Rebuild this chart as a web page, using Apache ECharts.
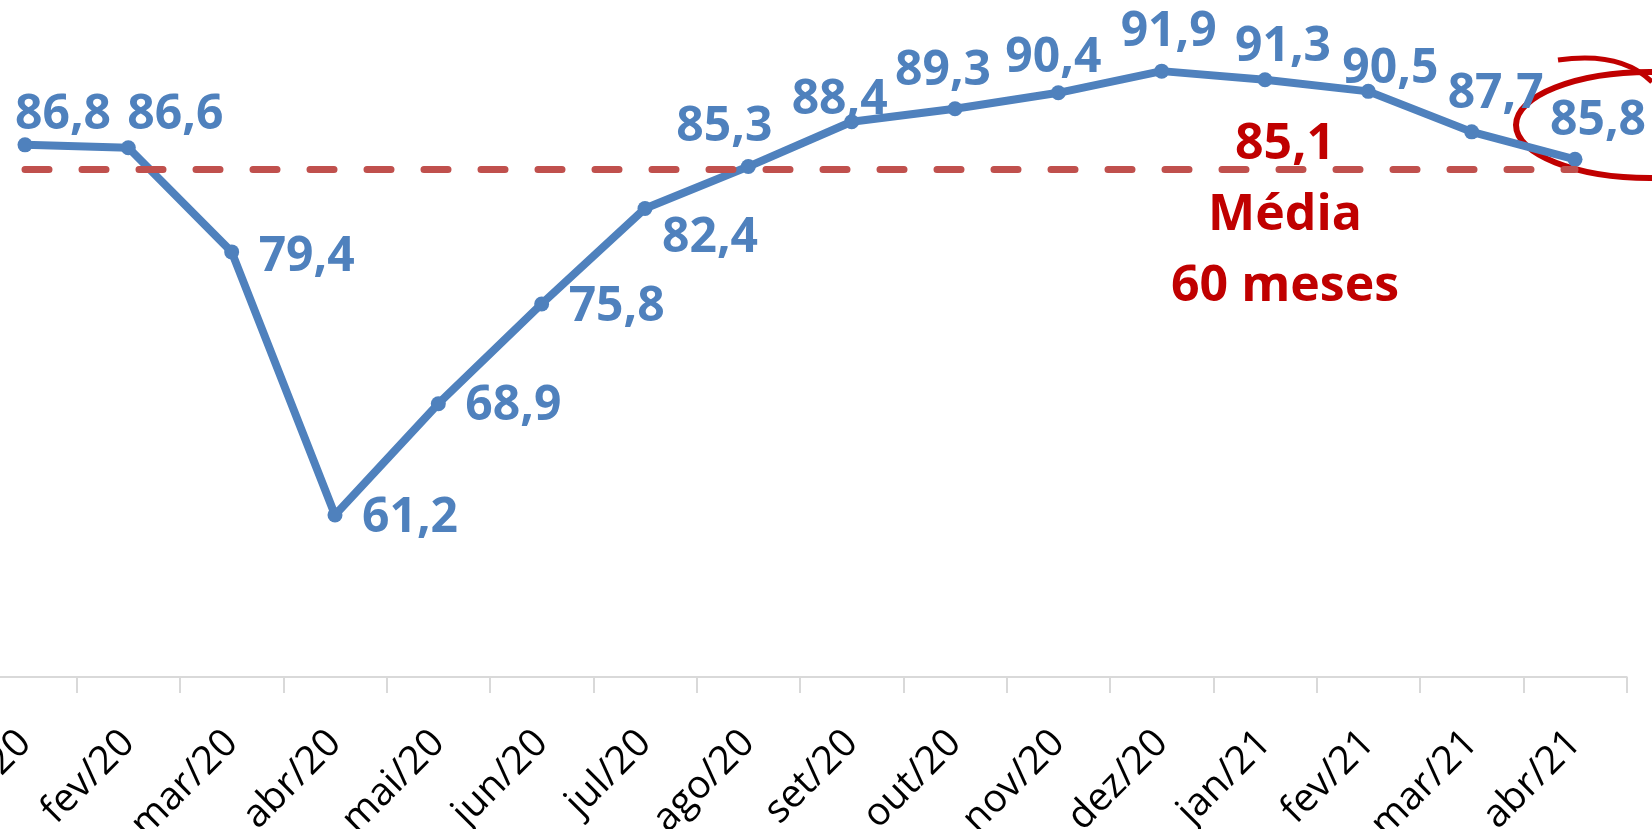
<!DOCTYPE html>
<html>
<head>
<meta charset="utf-8">
<script src="https://cdn.jsdelivr.net/npm/echarts@6/dist/echarts.min.js"></script>
<style>
html,body{margin:0;padding:0;background:#fff;}
#chart{width:1652px;height:829px;}
</style>
</head>
<body>
<div id="chart"></div>
<script>
// ---- data ----
const categories = ['jan/20','fev/20','mar/20','abr/20','mai/20','jun/20','jul/20','ago/20','set/20','out/20','nov/20','dez/20','jan/21','fev/21','mar/21','abr/21'];
const values = [86.8, 86.6, 79.4, 61.2, 68.9, 75.8, 82.4, 85.3, 88.4, 89.3, 90.4, 91.9, 91.3, 90.5, 87.7, 85.8];
const media60 = 85.1;
const mediaLabel = ['Média', '60 meses'];

// ---- layout (label placement relative to each point, px) ----
const labelOffsets = [[38,-30],[47,-32],[75,5],[75,3],[75,3],[75,3],[65,30],[-24,-39],[-12,-21],[-12,-37],[-5,-34],[7,-39],[18,-32],[22,-22],[24,-38],[23,-38]];

const fmt = v => v.toFixed(1).replace('.', ',');
const BLUE = '#4F81BD';
const RED = '#C00000';

const chart = echarts.init(document.getElementById('chart'), null, {renderer: 'canvas'});
chart.setOption({
  animation: false,
  backgroundColor: '#fff',
  grid: {left: -26.67, right: 25.33, top: -46, bottom: 152, outerBoundsMode: 'none'},
  xAxis: {
    type: 'category',
    data: categories,
    boundaryGap: true,
    axisLine: {lineStyle: {color: '#D9D9D9', width: 2}},
    axisTick: {show: true, length: 16, lineStyle: {color: '#D9D9D9', width: 2}},
    axisLabel: {interval: 0, rotate: 45, margin: 60, fontSize: 39, color: '#000', fontFamily: 'Open Sans'},
    splitLine: {show: false}
  },
  yAxis: {type: 'value', min: 50, max: 100, show: false, splitLine: {show: false}},
  series: [
    {
      name: 'Índice',
      type: 'line',
      z: 3,
      data: values.map((v, i) => ({value: v, label: {offset: labelOffsets[i]}})),
      symbol: 'circle',
      symbolSize: 15,
      itemStyle: {color: BLUE},
      lineStyle: {color: BLUE, width: 8, cap: 'round', join: 'round'},
      label: {
        show: true,
        position: 'inside',
        formatter: p => fmt(p.value),
        color: BLUE,
        fontSize: 48,
        fontWeight: 'bold',
        fontFamily: 'Open Sans'
      }
    },
    {
      name: 'Média 60 meses',
      type: 'line',
      z: 4,
      data: categories.map(() => media60),
      symbol: 'none',
      lineStyle: {color: '#C0504D', width: 7, type: [24, 33], cap: 'round'}
    }
  ],
  graphic: [
    {type: 'text', x: 1285, y: 145, style: {text: fmt(media60), fill: RED, font: 'bold 50px "Open Sans"', align: 'center', verticalAlign: 'middle'}},
    {type: 'text', x: 1285, y: 216, style: {text: mediaLabel[0], fill: RED, font: 'bold 50px "Open Sans"', align: 'center', verticalAlign: 'middle'}},
    {type: 'text', x: 1285, y: 287, style: {text: mediaLabel[1], fill: RED, font: 'bold 50px "Open Sans"', align: 'center', verticalAlign: 'middle'}},
    {type: 'ellipse', shape: {cx: 1650, cy: 125, rx: 134, ry: 53}, style: {fill: 'none', stroke: RED, lineWidth: 6}},
    {type: 'bezierCurve', shape: {x1: 1558, y1: 60, cpx1: 1600, cpy1: 54, cpx2: 1632, cpy2: 62, x2: 1652, y2: 82}, style: {fill: 'none', stroke: RED, lineWidth: 5}}
  ]
});
</script>
</body>
</html>
